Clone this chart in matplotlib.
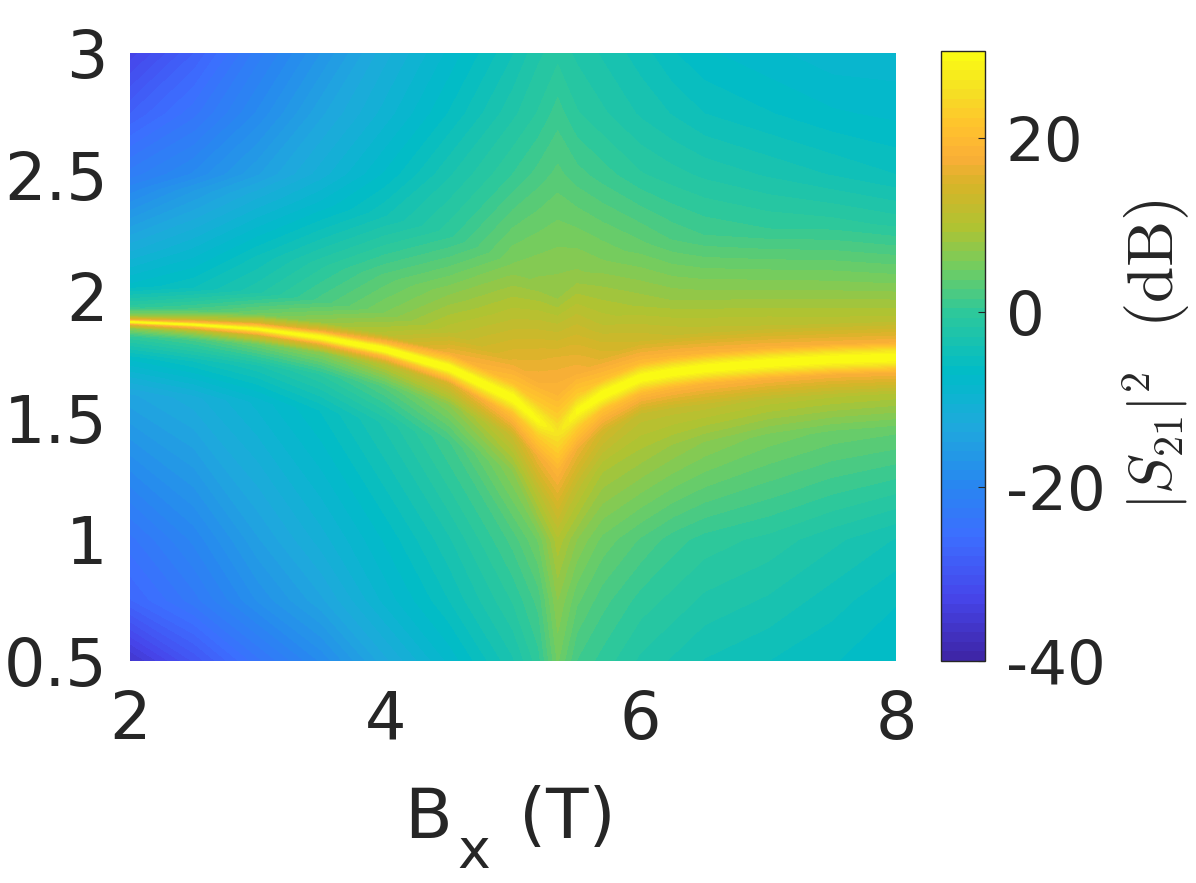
#!/usr/bin/env python3
# -*- coding: utf-8 -*-
"""Transmission map |S21|^2 versus Bx and frequency."""

import numpy as np
import matplotlib
matplotlib.use("Agg")
import matplotlib.pyplot as plt
from matplotlib.colors import LinearSegmentedColormap

# field values (T)
bx = [2, 2.5, 3, 3.5, 4, 4.5, 5, 5.2, 5.35, 5.5, 5.7, 6, 6.25, 6.5, 7, 7.5, 8]

# position of the bright line for each field value
ridge = [1.894, 1.883, 1.865, 1.83, 1.78, 1.705, 1.58, 1.49, 1.44,
         1.525, 1.594, 1.664, 1.687, 1.703, 1.725, 1.74, 1.748]

# rows under the line, on the line and over it
f_low = [0.5, 0.75, 1.0]
offsets = [-0.3, -0.15, -0.06, -0.025, -0.008, 0, 0.008, 0.025, 0.06, 0.15, 0.3, 0.55]
f_high = [2.5, 2.75, 3.0]

# values (dB), one row per level above
s21 = [
    [-36, -30, -24, -19, -13, -8, -3, 0, 5, 1.5, 0, -2, -3, -4, -5, -6, -7],
    [-27, -23, -18, -14, -9, -5, -0.5, 2, 7, 4, 2, 0, -1, -2, -3, -4.5, -6],
    [-24, -20, -15, -11, -7, -3, 2, 5, 10, 7, 4.5, 2.5, 1, 0, -1, -2.5, -4],
    [-14, -12, -9, -6, -2.5, 1.5, 7, 11, 14, 12, 9.5, 9, 8, 7, 5.5, 4.5, 4],
    [-7, -5, -3, -0.5, 3, 7, 13, 17, 19, 17, 14, 12, 12, 12, 11, 10.5, 10],
    [0, 2, 5, 7, 11, 15, 21, 23, 23.5, 23, 21, 20, 19.5, 19, 18.5, 18, 18],
    [7, 10, 14, 17, 20, 24, 27, 27, 25, 27, 27, 26.5, 26.5, 26.5, 26.5, 26.5, 26.5],
    [17, 20, 24, 27, 29, 30, 30, 29, 26, 29, 30, 30, 30, 30, 30, 30, 30],
    [30, 30, 30, 30, 30, 30, 30, 29, 26, 29, 30, 30, 30, 30, 30, 30, 30],
    [17, 20, 24, 27, 29, 30, 30, 28.5, 25.5, 29, 30, 30, 30, 30, 30, 30, 30],
    [7, 10, 14, 17, 20, 24, 27, 27, 25, 27, 27, 26.5, 26.5, 26.5, 26.5, 26.5, 26.5],
    [0, 2, 5, 8, 11, 17, 21, 23, 23, 23, 21, 20, 19.5, 19, 18.5, 18, 18],
    [-7, -5, -2, 2, 6, 11, 16, 18, 19, 18, 15.5, 13.5, 12.5, 12, 11.5, 11, 11],
    [-12, -9, -5, -1, 3, 7, 12, 14.5, 16, 14, 11, 9, 8, 7.5, 7, 6.5, 6],
    [-20, -16, -12, -8, -4, 0, 6, 7.5, 8, 7.5, 6, 4, 2.5, 1.5, 0.5, 0, -1],
    [-22, -19, -15, -11, -7, -3, 0.5, 2, 3, 2, 1, -0.5, -1.3, -2, -3, -4, -5],
    [-28, -24, -19, -14, -10, -6, -2, -0.5, 1, -0.5, -1.5, -3, -4, -5, -6, -7, -7.5],
    [-33, -28, -22, -17, -12, -8, -4, -2, -1, -2, -3, -4.5, -6, -7, -8, -9, -9],
]

x_ticks = [2, 4, 6, 8]
y_ticks = [0.5, 1, 1.5, 2, 2.5, 3]
y_labels = ["0.5", "1", "1.5", "2", "2.5", "3"]
cbar_ticks = [-40, -20, 0, 20]

# colours
cmap_db = [-40, -33, -26, -20, -13, -7, 0, 5, 10, 15, 18, 22, 26, 30]
cmap_rgb = [(62, 38, 168), (70, 70, 235), (60, 110, 255), (40, 135, 240),
            (30, 170, 220), (0, 187, 200), (45, 200, 155), (110, 205, 100),
            (175, 195, 50), (215, 180, 40), (250, 175, 55), (255, 195, 45),
            (245, 225, 35), (250, 250, 20)]

W, H = 1196, 883
DARK = "#262626"


def pixel_axes(fig, left, top, right, bottom):
    """Axes placed from pixel edges of the picture"""
    return fig.add_axes([left / W, 1 - bottom / H, (right - left) / W, (bottom - top) / H])


def rotated_label(fig, x, y, text, size):
    """Vertical text, anchored on its baseline at pixel position x, y"""
    fig.text(x / W, 1 - y / H, text, fontsize=size, color=DARK, rotation=90,
             ha="left", va="baseline", rotation_mode="anchor")


def main():
    plt.rcParams["font.family"] = "DejaVu Sans"
    plt.rcParams["mathtext.fontset"] = "cm"
    plt.rcParams["axes.unicode_minus"] = False

    ridge_arr = np.array(ridge)
    rows = [np.full_like(ridge_arr, f) for f in f_low]
    rows += [ridge_arr + o for o in offsets]
    rows += [np.full_like(ridge_arr, f) for f in f_high]
    Y = np.array(rows)
    X = np.tile(np.array(bx, dtype=float), (Y.shape[0], 1))
    Z = np.array(s21, dtype=float)

    stops = [(d - cmap_db[0]) / (cmap_db[-1] - cmap_db[0]) for d in cmap_db]
    colors = [tuple(c / 255 for c in rgb) for rgb in cmap_rgb]
    cmap = LinearSegmentedColormap.from_list("parula_like", list(zip(stops, colors)), N=64)

    fig = plt.figure(figsize=(W / 100, H / 100), dpi=100)
    ax = pixel_axes(fig, 130, 53, 896, 661)
    levels = np.linspace(-40, 30, 65)
    cs = ax.contourf(X, Y, Z, levels=levels, cmap=cmap, antialiased=False)

    ax.set_xlim(2, 8)
    ax.set_ylim(0.5, 3)
    ax.set_xticks(x_ticks)
    ax.set_yticks(y_ticks)
    ax.set_yticklabels(y_labels)
    ax.tick_params(axis="both", length=0, labelsize=47, labelcolor=DARK)
    ax.tick_params(axis="x", pad=20)
    ax.tick_params(axis="y", pad=16)
    for spine in ax.spines.values():
        spine.set_visible(False)

    cax = pixel_axes(fig, 941, 51, 985, 661)
    cb = fig.colorbar(cs, cax=cax)
    cb.set_ticks(cbar_ticks)
    cb.ax.tick_params(direction="in", length=5, width=0.8, color=DARK,
                      labelsize=44, labelcolor=DARK, pad=15)
    cb.outline.set_edgecolor(DARK)
    cb.outline.set_linewidth(1.0)

    # x label is made of three pieces, the subscript hangs very low in the original
    fig.text(404 / W, 1 - 838 / H, "B", fontsize=50, color=DARK, ha="left", va="baseline")
    fig.text(457 / W, 1 - 868 / H, "x", fontsize=40, color=DARK, ha="left", va="baseline")
    fig.text(519 / W, 1 - 838 / H, "(T)", fontsize=50, color=DARK, ha="left", va="baseline")

    rotated_label(fig, 1173, 510, r"$|S_{21}|^2$", 43)
    rotated_label(fig, 1173, 328, r"$(\mathrm{dB})$", 47)

    fig.savefig("out.png", dpi=100)
    plt.close(fig)
    return 0


if __name__ == "__main__":
    main()
